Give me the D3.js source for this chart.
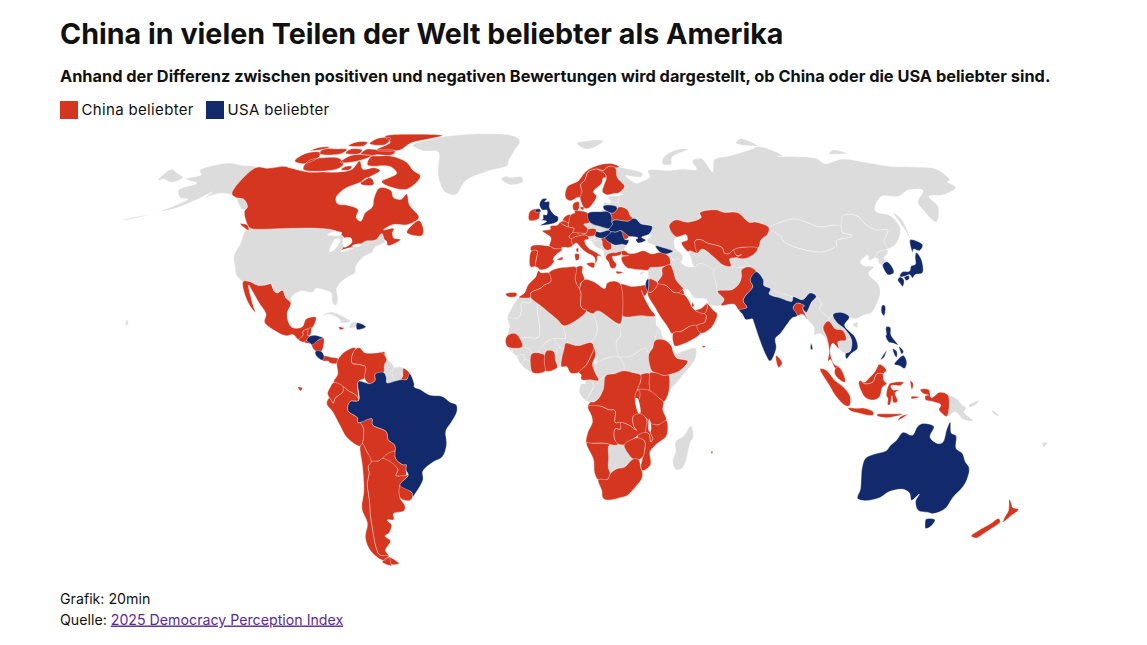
<!DOCTYPE html>
<html lang="de">
<head>
<meta charset="utf-8">
<title>China in vielen Teilen der Welt beliebter als Amerika</title>
<script src="https://cdn.jsdelivr.net/npm/d3@7"></script>
<style>
  html, body { margin: 0; padding: 0; background: #fff; }
  svg { display: block; }
  text { font-family: Inter, "Noto Sans", sans-serif; fill: #111; }
</style>
</head>
<body>
<svg id="chart" width="1147" height="645"></svg>
<script>
// labels
const titleText = "China in vielen Teilen der Welt beliebter als Amerika";
const subtitleText = "Anhand der Differenz zwischen positiven und negativen Bewertungen wird dargestellt, ob China oder die USA beliebter sind.";
const legendLabels = ["China beliebter", "USA beliebter"];
const creditText = "Grafik: 20min";
const sourcePrefix = "Quelle: ";
const sourceLink = "2025 Democracy Perception Index";

// country outlines, [lon, lat], read by hand. every country is a list of rings
const canada = [
  [[-141,69.6],[-135,69.3],[-128,70],[-125,69.5],[-115,68],[-108,68],[-100,68],[-95,69],[-94,72],[-90,69],[-85,69.5],[-81.5,68.5],[-85,66],[-87,64.5],[-93,62],[-94.5,59],[-92.5,57],[-88,56.5],[-82.5,55],[-82,52.5],[-79.5,51.3],[-79,54],[-77,56],[-78,59],[-77.5,62.4],[-72,61.5],[-69.5,59],[-66,58.5],[-64.5,60.3],[-61.5,56.5],[-56,52.5],[-60,50.2],[-66,50.2],[-69,48.5],[-65,49],[-65,47.5],[-64,46],[-61,45.5],[-65.5,43.6],[-66.5,45],[-67.5,45.5],[-69.2,47.4],[-71,45.3],[-74.7,45],[-76.5,44],[-79,43.4],[-79,42.8],[-83,42],[-82.5,45],[-84.5,46.5],[-88.5,48.3],[-95,49],[-109,49],[-123,49],[-125,50],[-130,54.5],[-130,56],[-134,58.5],[-137.5,59],[-141,60.3]],
  [[-61.5,66.5],[-65,62],[-72,62.5],[-78,64.5],[-73,67.5],[-78,70],[-89,70.5],[-90,73.8],[-80,73.8],[-71,71.5],[-66,68.5]],
  [[-118,69],[-105,68.5],[-101,69.8],[-101,71],[-105,73],[-112,73.3],[-119,72]],
  [[-125.5,72],[-120,71],[-115.5,73.5],[-117,75.3],[-124,74.8]],
  [[-90,76.3],[-78,76.2],[-75,79],[-65,81.3],[-61,82.5],[-75,83.2],[-92,82],[-86,79.5]],
  [[-96,74.7],[-80,74.5],[-80,75.9],[-90,76.4],[-95,76.5]],
  [[-96,78.8],[-87.5,78.5],[-88,81.3],[-95,81]],
  [[-117,74.8],[-106,74.8],[-105,76.5],[-110,76.7],[-117,76.5]],
  [[-123,76],[-117,76.5],[-115,77.5],[-120,77.3]],
  [[-104,75],[-97,74.8],[-97,76.2],[-103,76.6]],
  [[-106,78],[-98,78],[-98,79.5],[-104,79.5]],
  [[-103,71.5],[-96,71.8],[-90,74],[-100,74.2]],
  [[-100,68.8],[-96,68.8],[-96,70],[-99,70]],
  [[-87,63.7],[-81,63.5],[-83,65.5],[-86,65.8]],
  [[-59.3,47.7],[-53,46.7],[-52.8,48.5],[-55.5,51.5],[-57.5,50.5]],
  [[-128.5,50.5],[-123.5,48.4],[-125,50]]
];
const usa = [
  [[-123,49],[-124.7,48.4],[-124,44],[-124.3,40.3],[-122,36.8],[-120.5,34.5],[-117.1,32.5],[-114.8,32.5],[-111,31.3],[-108.2,31.4],[-106.5,31.8],[-104.5,29.6],[-103,29],[-101.4,29.8],[-99.5,27.5],[-97.2,25.9],[-97.3,27.8],[-94.5,29.5],[-90,29.2],[-89,30.3],[-85,29.7],[-83,29],[-81.8,26],[-80.5,25.2],[-80,27],[-81.3,30.5],[-79,33.3],[-75.6,35.3],[-76,37],[-74,40],[-71,41.5],[-70.5,43],[-67,44.8],[-67.5,45.5],[-69.2,47.4],[-71,45.3],[-74.7,45],[-76.5,44],[-79,43.4],[-79,42.8],[-83,42],[-82.5,45],[-84.5,46.5],[-88.5,48.3],[-95,49],[-109,49]],
  [[-141,69.6],[-141,60.3],[-137.5,59],[-134,58.5],[-130,56],[-131,55],[-134,56.5],[-139,59.5],[-146,60.5],[-151,59.3],[-150,61],[-154,58.5],[-160,55.5],[-165,54.5],[-158,58.5],[-162,59],[-166,61.5],[-161,64],[-166,65],[-168,65.6],[-163,67],[-166,68.5],[-157,71.2],[-148,70.3]],
  [[-165,54.5],[-172,52.5],[-178,51.5],[-176,52.2],[-170,53.2]],
  [[-156,20.8],[-154.9,19.5],[-155.8,19]]
];
const mexico = [
  [[-117.1,32.5],[-114.8,32.5],[-111,31.3],[-108.2,31.4],[-106.5,31.8],[-104.5,29.6],[-103,29],[-101.4,29.8],[-99.5,27.5],[-97.2,25.9],[-97.8,22.5],[-96,19],[-94.5,18.2],[-91.5,18.6],[-90.5,21],[-87,21.5],[-87.8,18.3],[-89.2,17.9],[-91,17.2],[-90.8,16],[-92.2,14.6],[-94.5,16.2],[-97,15.8],[-101.5,17.5],[-105.5,20],[-105.5,22.5],[-109,26],[-112.5,29.5],[-114.7,31.5],[-113,28.5],[-110.5,24.5],[-109.5,23],[-112,25],[-115,28.5]]
];
const guatemala = [[[-92.2,14.6],[-90.8,16],[-91,17.2],[-89.2,17.9],[-89,15.8],[-88.3,15.7],[-89.3,14.4],[-90.1,13.8]]];
const belize = [[[-89.2,17.9],[-88.2,18.4],[-88.3,16],[-89,15.9]]];
const elSalvador = [[[-90.1,13.8],[-89.3,14.4],[-87.8,13.4]]];
const honduras = [[[-89.3,14.4],[-88.3,15.7],[-86,15.9],[-83.2,15],[-84.5,14.8],[-87.3,13],[-87.8,13.4]]];
const nicaragua = [[[-87.3,13],[-84.5,14.8],[-83.2,15],[-83.7,11],[-85.7,11.1]]];
const costaRica = [[[-85.7,11.1],[-83.7,11],[-82.6,9.6],[-83,8.3],[-85.7,10]]];
const panama = [[[-82.9,8.1],[-82.6,9.6],[-80,9.2],[-77.4,8.7],[-77.9,7.3],[-80.3,7.4],[-81,8]]];
const cuba = [[[-85,21.9],[-82,23.1],[-77,21.7],[-74.2,20.2],[-77.7,19.9],[-78,20.7],[-82,22.4]]];
const dominicanRepublic = [[[-71.7,19.8],[-68.4,18.6],[-71.4,17.7],[-71.9,18.5]]];
const haiti = [[[-73.5,19.9],[-71.7,19.8],[-71.9,18.5],[-74.4,18.4]]];
const jamaica = [[[-78.3,18.5],[-76.2,18.2],[-77.5,17.7]]];
const trinidad = [[[-61.9,10.8],[-60.9,10.8],[-60.9,10],[-61.9,10]]];

const colombia = [[[-77.4,8.7],[-75.5,10.7],[-72,12.2],[-71.3,11.8],[-72.5,9.8],[-72.4,7.4],[-70,7],[-67.5,6.2],[-67.8,2.8],[-70,1.7],[-69.9,-4.2],[-70.9,-2.5],[-73.5,-1.2],[-75.3,0],[-78.8,1.4],[-77.4,4],[-77.9,7.3]]];
const venezuela = [[[-71.3,11.8],[-70,12.1],[-68,10.6],[-64,10.5],[-62,10.7],[-60,8.5],[-60.8,6.8],[-61,4.5],[-64,4],[-64,2],[-66,1],[-67.8,2.8],[-67.5,6.2],[-70,7],[-72.4,7.4],[-72.5,9.8]]];
const guyana = [[[-60,8.5],[-57.2,6],[-58,4],[-56.5,1.9],[-59.8,1.3],[-60,3],[-61,4.5],[-60.8,6.8]]];
const suriname = [[[-57.2,6],[-54,5.8],[-54.1,3.5],[-54.6,2.3],[-56.5,1.9],[-58,4]]];
const brazil = [[[-51.7,4.2],[-50,1],[-50,0],[-48,-0.7],[-44.5,-2.5],[-40,-2.9],[-37,-4.8],[-35,-5.5],[-34.8,-7.5],[-37,-11],[-39,-13.5],[-39,-17.8],[-40.8,-21.5],[-44.5,-23.2],[-48.5,-26],[-48.7,-28.5],[-52.5,-33],[-53.4,-33.7],[-53.5,-32.5],[-57.6,-30.2],[-54,-27.2],[-54.6,-25.6],[-54.3,-24],[-55.5,-24],[-58,-22],[-57.8,-18],[-60,-16.3],[-60.5,-13.8],[-65.3,-11.7],[-65.4,-9.8],[-70.5,-11],[-70.6,-9.5],[-73.9,-7.3],[-73,-4.5],[-69.9,-4.2],[-70,1.7],[-67,1.2],[-66,1],[-64,2],[-64,4],[-61,4.5],[-60,3],[-59.8,1.3],[-56.5,1.9],[-54.6,2.3],[-52.7,2.3]]];
const ecuador = [
  [[-78.8,1.4],[-75.3,0],[-75.5,-1.5],[-78.3,-3.5],[-79,-5],[-80.3,-3.4],[-81,-2],[-80,0]],
  [[-91.6,-0.1],[-90,-0.3],[-90.6,-1.2]]
];
const peru = [[[-80.3,-3.4],[-79,-5],[-78.3,-3.5],[-75.5,-1.5],[-75.3,0],[-73.5,-1.2],[-70.9,-2.5],[-69.9,-4.2],[-73,-4.5],[-73.9,-7.3],[-70.6,-9.5],[-70.5,-11],[-69.5,-11],[-68.7,-12.5],[-69,-16.2],[-69.5,-17.5],[-70.4,-18.3],[-75,-15.5],[-77,-12],[-79.5,-7.5],[-81.3,-5.5],[-81.2,-4.3]]];
const bolivia = [[[-69.5,-11],[-65.4,-9.8],[-65.3,-11.7],[-60.5,-13.8],[-60,-16.3],[-57.8,-18],[-58,-19.8],[-62.6,-22],[-64.3,-22.8],[-67,-23],[-68.4,-19.5],[-69.5,-17.5],[-69,-16.2],[-68.7,-12.5]]];
const paraguay = [[[-58,-19.8],[-58,-22],[-55.5,-24],[-54.3,-24],[-54.6,-25.6],[-54.8,-27.2],[-58.6,-27.3],[-57.6,-25.3],[-62.6,-22]]];
const uruguay = [[[-57.6,-30.2],[-53.5,-32.5],[-53.4,-33.7],[-54.9,-35],[-58.4,-34]]];
const argentina = [
  [[-67,-23],[-64.3,-22.8],[-62.6,-22],[-57.6,-25.3],[-58.6,-27.3],[-54.8,-27.2],[-54,-27.2],[-57.6,-30.2],[-58.4,-34],[-57,-36.5],[-57.6,-38.1],[-62,-39],[-62.3,-40.8],[-65,-41],[-63.7,-42.5],[-65.5,-45],[-67.5,-46],[-65.8,-47.5],[-69,-50.5],[-68.4,-52.3],[-72,-52],[-72.5,-50],[-72,-46],[-71.5,-43],[-71,-39],[-70.3,-36],[-70,-33],[-69.8,-30],[-68.4,-26.5],[-68.4,-24.5]],
  [[-68.6,-52.7],[-65.2,-54.8],[-68.6,-55]]
];
const chile = [
  [[-70.4,-18.3],[-69.5,-17.5],[-68.4,-19.5],[-67,-23],[-68.4,-24.5],[-68.4,-26.5],[-69.8,-30],[-70,-33],[-70.3,-36],[-71,-39],[-71.5,-43],[-72,-46],[-72.5,-50],[-72,-52],[-68.4,-52.3],[-71,-53.8],[-75,-51],[-75.5,-46.5],[-73,-42],[-73.7,-37.5],[-71.5,-32],[-70.5,-25]],
  [[-68.6,-52.7],[-68.6,-55],[-68.6,-55.5],[-72,-54.3]]
];
const greenland = [[[-73,78.2],[-65,81],[-60,82],[-40,83.4],[-22,82.3],[-18,80],[-20,76],[-22,72],[-22,70.5],[-32,68],[-40,65],[-43,60],[-48,61],[-53,66],[-55,70],[-58,75.5],[-66,76]]];
const iceland = [[[-24,65.5],[-21,63.8],[-18.5,63.4],[-14,64.6],[-15,66.2],[-20,66],[-22,66.4]]];

const russia = [
  [[31,69.8],[33,69.4],[41,67.5],[40,66.2],[35,66.5],[33,66.7],[37,64],[40,64.7],[44,66.2],[44,68.5],[54,68.5],[60,69],[67,69],[67,72],[72,73],[74,68],[78,72.5],[87,74],[100,76.5],[105,77.7],[113,74],[110,73.8],[128,73],[130,71],[140,72.7],[150,71.5],[160,70],[170,69.8],[180,69],[180,65],[178,64.5],[179,62.5],[170,60],[163,59.5],[163,56],[157,51],[155.5,55],[156,57.5],[163,61.5],[156,61.5],[150,59.5],[142,59.3],[135,54.7],[140,53],[140.5,49],[135,44],[131,42.6],[130.7,42.5],[131,45],[135,48.4],[130.5,48.5],[127.5,50],[126,53],[120.5,53.2],[117,49.7],[114,50],[108,49.5],[102,51.5],[98.5,52],[92,50.7],[87.3,49.2],[83,51],[80,51],[77,54],[71,54.2],[68,55],[61,54],[61,52.5],[55,51],[50,51.7],[47,50],[47,48.5],[49,46.3],[48,45.5],[47.5,43],[48.5,41.8],[46.5,41.8],[43.5,42.8],[40,43.5],[37,45],[39,47],[38.2,47.2],[40,49.6],[35.5,50.5],[34,52],[32.7,52.2],[31.7,53],[31,55],[28,56],[27.5,59.5],[30,60.2],[28,60.5],[31.5,62.8],[29,66],[29,69.5]],
  [[-180,69],[-175,67.5],[-170,66],[-173,64.3],[-178,65.5],[-180,65]],
  [[142,54],[143.5,52],[143,49],[142,46],[142,49],[141.8,52]],
  [[52,71],[56,70.7],[58,73.5],[68,76.5],[63,76.5],[54,73.5]],
  [[95,79],[105,78],[100,81]],
  [[137,74.8],[146,75],[141,76.2]],
  [[19.7,54.4],[22.8,54.3],[21,55.3]]
];
const svalbard = [[[12,79],[20,80.3],[26,80],[21,77.5],[16,76.7]]];

const unitedKingdom = [
  [[-5.5,50],[1.4,51.2],[1.7,52.7],[0,53.5],[-1.5,55],[-2,56],[-2,57.7],[-4,57.7],[-3,58.6],[-5,58.6],[-6.2,56.8],[-5,55],[-3,54.9],[-3,53.4],[-4.5,53.3],[-4.5,52],[-5.2,51.7],[-3,51.3]],
  [[-8,54.4],[-5.5,54.4],[-6,55.2],[-7.5,55.2]]
];
const ireland = [[[-10.2,51.6],[-6.3,52.1],[-6,53.5],[-5.9,54.2],[-8,54.4],[-7.5,55.3],[-10.2,54.4]]];
const france = [
  [[-1.8,43.4],[-1.2,46],[-4.7,48.2],[-1.5,48.7],[-1.5,49.7],[1.5,50.1],[2.5,51],[4.2,50],[6,49.5],[8.2,49],[7.5,47.6],[6,46.3],[7,45.8],[7.5,43.8],[6,43],[3.1,43],[3,42.4],[0,42.7]],
  [[8.6,42.2],[9.5,43],[9.4,41.5]],
  [[-54,5.8],[-51.7,4.2],[-52.7,2.3],[-54.6,2.3],[-54.1,3.5]]
];
const spain = [
  [[-9.2,43.1],[-8,43.7],[-1.8,43.4],[0,42.7],[3.2,42.4],[0.5,40.5],[-0.3,39.3],[0,38.7],[-2,36.8],[-5.3,36.1],[-6.3,36.8],[-7.4,37.2],[-7,39],[-6.6,42],[-8.8,41.9]],
  [[-18,28.7],[-14,29],[-14,28],[-17,27.8]],
  [[1.2,39.2],[3.4,40],[3.2,39.2]]
];
const portugal = [[[-8.8,41.9],[-6.6,42],[-7,39],[-7.4,37.2],[-9,37],[-9.5,38.7]]];
const belgium = [[[2.5,51],[4.2,51.4],[6,50.8],[6,49.5],[4.2,50]]];
const netherlands = [[[3.5,51.4],[4.8,53],[7.1,53.4],[6,50.8],[4.2,51.4]]];
const germany = [[[6,50.8],[7.1,53.4],[8.7,54],[8.6,54.9],[10,54.8],[14.2,53.9],[14.7,51],[12.2,50.3],[13.8,48.7],[13,47.5],[7.5,47.6],[8.2,49],[6,49.5]]];
const denmark = [[[8.2,55],[10,54.8],[10.8,56.3],[10.5,57.7],[8.2,57]],[[11,55.7],[12.6,56],[12.3,54.9]]];
const norway = [[[5,59],[7,58],[10.5,59.2],[11.3,59],[12.3,61],[12,63.5],[14,65],[16,68],[20,69],[23,68.5],[26,70],[29,69.5],[31,69.8],[28,71],[23,70.8],[17,69.2],[14,67.5],[11,64.8],[6,62.8]]];
const sweden = [[[11.3,59],[13,55.5],[14.5,55.5],[16.5,57],[18.5,59.5],[17.3,61],[21.5,64],[22.5,65.8],[24,66],[23.5,67.5],[20.5,69],[16,68],[14,65],[12,63.5],[12.3,61]]];
const finland = [[[24,66],[22.5,63.5],[21.3,61],[23,60],[27,60.5],[28,60.5],[31.5,62.8],[29,66],[29,69.5],[26,70],[23,68.5],[20.5,69],[23.5,67.5]]];
const italy = [
  [[7,45.8],[8.5,46.4],[12.2,47],[13.7,46.5],[13.7,45.6],[12.3,45.3],[12.4,44.2],[14,42.5],[16,41.7],[18.5,40.2],[17,40.4],[16.6,39],[16,38],[15.6,40],[12.5,41.5],[10.5,43],[8.8,44.4],[7.5,43.8]],
  [[12.5,38],[15.6,38.2],[15.1,36.7]],
  [[8.2,41],[9.7,41],[9.5,39.2],[8.5,39]]
];
const switzerland = [[[6,46.3],[7.5,47.6],[9.6,47.5],[10.4,46.8],[8.5,46.4],[7,45.8]]];
const austria = [[[9.6,47.5],[13,47.5],[13.8,48.7],[17,48.7],[16.5,46.9],[13.7,46.5],[12.2,47],[10.4,46.8]]];
const czechia = [[[12.2,50.3],[14.7,51],[18.8,49.6],[17,48.7],[13.8,48.7]]];
const slovakia = [[[17,48.7],[18.8,49.6],[22.5,49],[22,48.4],[18.8,47.8]]];
const poland = [[[14.2,53.9],[19.5,54.4],[23,54.3],[24,52.5],[23.7,51],[24,50.5],[22.5,49],[18.8,49.6],[14.7,51]]];
const lithuania = [[[21,55.3],[21,56.3],[26,56.3],[26.7,55.5],[25,54],[23.5,54],[22.8,54.3]]];
const latvia = [[[21,56.3],[21.5,57.5],[24,57.2],[24.5,57.9],[27.5,57.5],[28,56],[26.7,55.5],[26,56.3]]];
const estonia = [[[23.5,59.2],[28,59.4],[27.5,57.5],[24.5,57.9]]];
const belarus = [[[23.7,51],[24,52.5],[23.5,54],[25,54],[26.7,55.5],[28,56],[31,55],[31.7,53],[32.7,52.2],[30.5,51.3],[25,51.7]]];
const ukraine = [[[24,50.5],[23.7,51],[25,51.7],[30.5,51.3],[32.7,52.2],[34,52],[35.5,50.5],[40,49.6],[38.2,47.2],[35,46.2],[36.5,45.3],[33.5,44.4],[32.5,45.4],[33.5,46],[30.7,46.4],[30,46.5],[27,48.3],[24.9,47.8],[22.9,47.9],[22,48.4],[22.5,49]]];
const moldova = [[[27,48.3],[30,46.5],[28.2,45.5]]];
const romania = [[[22.9,47.9],[24.9,47.8],[27,48.3],[28.2,45.5],[29.7,45.3],[28.6,43.8],[27,44],[24,43.7],[22.5,44.3],[21.5,44.8],[20.3,46.1]]];
const hungary = [[[16.5,46.9],[17,48],[18.8,47.8],[22,48.4],[22.9,47.9],[20.3,46.1],[18.8,45.9],[16.5,46.5]]];
const bulgaria = [[[22.5,44.3],[24,43.7],[27,44],[28.6,43.8],[27.6,42.5],[28,41.9],[26.3,41.8],[24,41.4],[22.8,41.4],[22.4,42.5]]];
const serbia = [[[18.8,45.9],[20.3,46.1],[21.5,44.8],[22.5,44.3],[22.4,42.5],[20.5,42.2],[19.2,43.5],[19.1,44.9]]];
const slovenia = [[[13.7,46.5],[16.5,46.5],[15.5,45.5],[13.7,45.6]]];
const croatia = [[[13.7,45.5],[15.5,45.5],[16.5,46.5],[18.8,45.9],[19.1,44.9],[16,45],[15.5,44.2],[18.5,42.5],[16,43.5],[14.8,45]]];
const bosnia = [[[16,45],[19.1,44.9],[19.2,43.5],[18.5,42.5],[15.5,44.2]]];
const albaniaRegion = [[[18.5,42.5],[19.2,43.5],[20.5,42.2],[22.4,42.5],[22.8,41.4],[20.8,40.9],[20,39.7],[19.3,40.5],[19.4,41.8]]];
const greece = [
  [[20,39.7],[20.8,40.9],[22.8,41.4],[24,41.4],[26.3,41.8],[26,40.8],[23.5,40.3],[22.7,40.3],[23,39],[24,37.8],[23,36.5],[21.7,36.8],[21,38.5]],
  [[23.6,35.6],[26.3,35.3],[24,34.9]]
];
const turkey = [[[26.3,41.8],[28,41.9],[29,41.2],[31.5,41.2],[35,42],[38,41],[41.5,41.5],[43.5,41],[44.8,39.7],[44.5,37.7],[42.5,37.2],[38,36.8],[36.7,36.8],[36,36],[33,36.1],[30.5,36.3],[28,36.7],[26.3,38.5],[26.2,40],[29,40.5],[26.7,40.5]]];
const cyprus = [[[32.3,35],[34.5,35.6],[33.5,34.7]]];
const georgia = [[[40,43.5],[43.5,42.8],[46.5,41.8],[45,41.2],[43.5,41],[41.5,41.5]]];
const armenia = [[[43.5,41],[45,41.2],[46.5,39],[44.8,39.7]]];
const azerbaijan = [[[45,41.2],[46.5,41.8],[48.5,41.8],[50,40.4],[48.9,38.4],[46.5,39]]];

const kazakhstan = [[[47,50],[50,51.7],[55,51],[61,52.5],[61,54],[68,55],[71,54.2],[77,54],[80,51],[83,51],[87.3,49.2],[85.5,47],[82.5,45.5],[80,42.8],[74,43],[70.5,42.3],[68,41],[66.5,41.2],[66,43],[61,44.3],[58,45.5],[56,45],[56,41.3],[53,42],[52.5,41.7],[50.5,44.5],[53,45.3],[53,47],[49,46.3],[47,48.5]]];
const uzbekistan = [[[56,45],[58,45.5],[61,44.3],[66,43],[66.5,41.2],[68,41],[70.5,42.3],[71,40.5],[73,40.8],[71,39.9],[68,39.5],[67.8,37.2],[65,37.5],[62,40],[58,42.5],[56,41.3]]];
const kyrgyzstan = [[[70.5,42.3],[74,43],[80,42.8],[78,41],[73.5,39.5],[71,39.9],[73,40.8],[71,40.5]]];
const tajikistan = [[[68,39.5],[71,39.9],[73.5,39.5],[75,37.4],[71.5,36.8],[67.8,37.2]]];
const turkmenistan = [[[53,42],[56,41.3],[58,42.5],[62,40],[65,37.5],[61,36],[56,38],[53.8,37],[53,39.5]]];
const iran = [[[44.8,39.7],[46.5,39],[48,39.7],[48.9,38.4],[50,37.4],[53.8,37],[56,38],[61,36],[61,31.5],[63,27],[61.6,25.2],[57,25.5],[56.5,27],[52,27.5],[50,30],[48.5,30],[46,33],[45.5,35.5],[44.5,37.7]]];
const afghanistan = [[[61,36],[65,37.5],[67.8,37.2],[71.5,36.8],[74.5,37.2],[71.5,36],[71,34],[69.5,31.8],[66.5,30],[61,29.5],[61,31.5]]];
const pakistan = [[[61,29.5],[66.5,30],[69.5,31.8],[71,34],[71.5,36],[74.5,37],[77,35.5],[74,33],[74.5,31],[71,28],[70,26.5],[71,24.5],[68,23.7],[66.5,25.5],[61.6,25.2],[63,27]]];
const india = [
  [[77,35.5],[79,33],[78.7,31.3],[81,30.2],[80,28.7],[84,27.4],[88,26.4],[88.8,27.8],[92,26.9],[95.5,29],[97.4,28],[95,26],[93.5,24],[92.5,23],[91.5,24.5],[92.3,25],[89.8,25.9],[88,24.5],[89,22],[87,21.3],[85,19.5],[82,16.5],[80,15],[80,12],[77.5,8],[76.3,9.5],[74.5,14],[72.8,20],[72.5,21],[70,20.8],[69,22.5],[68,23.7],[71,24.5],[70,26.5],[71,28],[74.5,31],[74,33]],
  [[92.7,13.5],[93.1,11.7],[92.4,11.7]]
];
const sriLanka = [[[79.8,9.7],[81.8,7.5],[80.5,6],[79.8,7.5]]];
const bangladesh = [[[88,24.5],[89.8,25.9],[92.3,25],[91.5,24.5],[92.5,21],[91,22.5],[89,22]]];
const nepal = [[[80,28.7],[81,30.2],[88.2,27.9],[88,26.4],[84,27.4]]];
const myanmar = [[[92.5,23],[93.5,24],[95,26],[97.4,28],[98.7,25.7],[97.6,24],[101,21.5],[100,20.4],[97.8,18.5],[98.7,15],[99,11],[97.8,15.5],[96,16.5],[94.3,16],[94.5,18.5],[92.5,21]]];
const thailand = [[[100,20.4],[101,19.5],[102,18],[104.7,17.5],[105.5,14.5],[102.5,14],[102.5,12],[100.5,13.5],[99.3,11],[100.5,7],[102,6.2],[100.8,5.8],[99.2,8.5],[98.3,8],[99,11],[98.7,15],[97.8,18.5]]];
const vietnam = [[[102.2,22.4],[105.5,23],[108,21.6],[105.7,19],[108.8,15.5],[109.3,12],[106.7,10.3],[105,8.7],[104.8,10.3],[106.5,11],[107.5,14.5],[105.5,18],[103,20]]];
const laos = [[[100,20.4],[101,21.5],[102.2,22.4],[103,20],[105.5,18],[107.5,14.5],[105.5,14.5],[104.7,17.5],[102,18],[101,19.5]]];
const cambodia = [[[102.5,14],[105.5,14.5],[107.5,14.5],[106.5,11],[104.8,10.3],[102.8,11.6],[102.5,12]]];
const malaysia = [
  [[100.8,5.8],[102,6.2],[103.4,4.5],[104.2,1.5],[102.5,2],[100.5,4]],
  [[109.6,2],[111,1.5],[113,3],[115,4.9],[116.7,7],[119,5.2],[117.6,4.1],[115.5,4],[114,1.5],[111,1]]
];
const indonesia = [
  [[95.3,5.6],[97.5,5.2],[100.5,2],[103.5,0],[106,-3],[105.8,-5.8],[104.5,-5.8],[101,-3],[98.5,0.5]],
  [[109,1.5],[109.6,2],[111,1],[114,1.5],[115.5,4],[117.6,4.1],[118,2],[119,1],[117.5,0],[116.5,-3],[114.5,-4],[111.5,-3.3],[110,-1.5]],
  [[105.3,-6.5],[108.5,-6.6],[110.8,-6.5],[114.5,-7.7],[114.5,-8.7],[108,-7.8],[106.5,-7.4]],
  [[119.8,0.8],[120.8,1.3],[125,1.5],[124,0.5],[120.5,0.4],[121.3,-0.9],[123.3,-0.9],[122,-1.8],[123,-4.5],[121.5,-4.8],[120.9,-2.7],[120.3,-5.5],[119.5,-5.4],[119.5,-3.5],[118.9,-2.7]],
  [[116,-8.4],[119,-8.3],[123,-8.3],[125,-8.4],[123,-9],[119.5,-9.5],[116,-8.9]],
  [[123.6,-10.3],[127,-8.4],[124.5,-9.1]],
  [[127.5,2],[128.5,1],[128,-0.8],[127.5,1]],
  [[127.8,-3],[130.8,-3.1],[128,-3.6]],
  [[131,-0.8],[134,-0.8],[135,-3.3],[138,-1.6],[141,-2.6],[141,-9.1],[139,-8],[138,-7],[138.5,-5.5],[135,-4.4],[133,-4],[132.8,-2.8],[134,-2.5],[132,-2]]
];
const papuaNewGuinea = [
  [[141,-2.6],[144.5,-3.9],[146,-5.5],[147.8,-6.5],[147,-7.7],[150.8,-10.5],[147,-10],[144,-7.7],[141,-9.1]],
  [[148.5,-5.7],[152,-4.2],[151,-5.5],[149,-6.2]],
  [[157,-7],[160,-9],[158,-8.4]]
];
const philippines = [
  [[120.3,16],[120.7,18.5],[122.2,18.4],[122,16],[124,13],[122.5,13.5],[120.7,14],[120,16]],
  [[122,7],[123.5,8.6],[125.5,9.7],[126.5,7.5],[125.5,5.7],[124,6.5]],
  [[124.3,12.5],[125.7,11],[125,10.2]],
  [[122,11.8],[123.3,11],[123,9.2],[122.3,10]],
  [[117.2,8.4],[119.6,11.3],[118.5,9.2]]
];
const japan = [
  [[130.9,34],[132.5,35.4],[135.5,35.7],[136.8,37.2],[138.8,37.8],[140,40],[141.3,41.4],[142,39.5],[140.8,36],[139.8,35],[137,34.6],[135.5,33.6],[135,34.6],[132.5,34]],
  [[140,41.5],[141.7,45.4],[145.5,43.8],[143,42],[141,42.5]],
  [[129.7,33],[131,33.9],[132,33],[130.7,31],[130,32]],
  [[132.5,33.8],[134.5,34.3],[134.2,33.4],[132.9,32.8]]
];
const taiwan = [[[120.1,23],[121,25.2],[122,25],[120.8,22]]];
const southKorea = [[[126.2,37.7],[128.4,38.6],[129.4,37],[129.2,35.2],[127,34.5],[126.3,35]]];
const northKorea = [[[124.4,40],[126.5,41.5],[128,42],[130.7,42.3],[129.8,41],[127.5,39.7],[128.4,38.6],[126.2,37.7],[125,38],[125.3,39.5]]];
const china = [
  [[73.5,39.5],[78,41],[80,42.8],[82.5,45.5],[85.5,47],[87.3,49.2],[90.8,46.5],[91,45],[96,42.8],[105,41.7],[111.5,43.7],[112,45],[119.5,46.7],[116,47.8],[117,49.7],[120.5,53.2],[126,53],[127.5,50],[130.5,48.5],[135,48.4],[131,45],[130.7,42.5],[128,42],[126.5,41.5],[124.4,40],[121.5,39],[122,40.5],[119,39.3],[118,38.2],[119,37.3],[122.5,37],[119.5,35],[121.8,31.5],[121.5,29],[119,25.5],[116.5,23],[113.5,22.2],[110,21],[108,21.6],[105.5,23],[102.2,22.4],[101,21.5],[97.6,24],[98.7,25.7],[97.4,28],[95.5,29],[92,26.9],[88.8,27.8],[88.2,27.9],[81,30.2],[78.7,31.3],[79,33],[77,35.5],[74.5,37.2],[75,37.4]],
  [[108.7,19.3],[110.7,20],[110,18.4]]
];
const mongolia = [[[87.3,49.2],[92,50.7],[98.5,52],[102,51.5],[108,49.5],[114,50],[117,49.7],[116,47.8],[119.5,46.7],[112,45],[111.5,43.7],[105,41.7],[96,42.8],[91,45],[90.8,46.5]]];

const saudiArabia = [[[34.9,29.4],[36,29.2],[37.5,30],[38,30.5],[39,32],[42,31.3],[44.7,29.2],[46.5,29.1],[48.4,28.5],[50,26.5],[50.8,24.7],[52,23.6],[55.2,22.7],[55.7,22],[55,20],[52,19],[49,18.6],[46.5,17.3],[43.2,16.7],[42.8,16.4],[41,19],[39,21.5],[37.2,24.5],[35,28]]];
const yemen = [[[43.2,16.7],[46.5,17.3],[49,18.6],[52,19],[53.1,16.7],[49,14.2],[45,12.8],[43.5,12.7]],[[53.3,12.7],[54.6,12.6],[54,12.2]]];
const oman = [[[55,20],[55.7,22],[55.2,22.7],[56.4,24.5],[56.3,26],[58.7,23.5],[59.8,22.5],[57.8,19],[55,17],[53.1,16.7],[52,19]]];
const uae = [[[52,23.6],[55.2,22.7],[56.4,24.5],[56.3,25.6],[54,24.2]]];
const qatar = [[[50.8,24.7],[51.2,26.1],[51.6,25]]];
const kuwait = [[[46.5,29.1],[48,30],[48.4,28.5]]];
const iraq = [[[42.5,37.2],[44.5,37.7],[45.5,35.5],[46,33],[48.5,30],[48,30],[46.5,29.1],[44.7,29.2],[42,31.3],[39,32],[41,34.5],[41.3,36.5]]];
const jordan = [[[35,29.4],[36,29.2],[37.5,30],[38,30.5],[39,32],[36,33.3],[35.6,32],[35.5,31]]];
const syria = [[[36,36],[36.7,36.8],[38,36.8],[42.5,37.2],[41.3,36.5],[41,34.5],[39,32],[36,33.3]]];
const lebanon = [[[35.1,33.1],[36,33.3],[36,34.6]]];
const israel = [[[34.3,31.3],[34.9,29.5],[35.5,31],[35.6,32],[35.7,33.2],[35.1,33.1]]];

const egypt = [[[25,31.6],[29,31],[32.5,31.2],[34.3,31.3],[34.9,29.5],[33.5,28],[32.6,29.8],[33.8,27],[35.5,24],[37,22],[31.5,22],[25,22],[25,29]]];
const libya = [[[9.5,30.2],[11.5,33.1],[15,32.4],[19,30.3],[20,32],[23,32.6],[25,31.6],[25,22],[24,19.5],[16,23.5],[14.2,22.6],[11.9,23.5],[10,24.5],[10,29]]];
const tunisia = [[[8,33],[9.5,30.2],[10,32],[11.5,33.1],[10.7,35.5],[11,37],[9.8,37.3],[8.5,36.8]]];
const algeria = [[[-8.7,27.7],[-8.7,29],[-5,30.5],[-3.5,31.5],[-1.2,32.5],[-2,35.1],[1,36.5],[5,36.9],[8.5,36.8],[8,33],[9.5,30.2],[10,29],[10,24.5],[11.9,23.5],[5.8,19.4],[3.3,19],[1.2,20.8],[-4.8,25]]];
const morocco = [[[-2,35.1],[-1.2,32.5],[-3.5,31.5],[-5,30.5],[-8.7,29],[-8.7,27.7],[-13,27.7],[-11,29],[-9.7,31.5],[-7,33.8],[-5.9,35.8],[-5,35.2]]];
const westernSahara = [[[-13,27.7],[-8.7,27.7],[-8.7,26],[-12,26],[-12,23.5],[-13,21.3],[-17,21.3],[-16,23.7],[-14.5,26]]];
const mauritania = [[[-17,21.3],[-13,21.3],[-12,23.5],[-12,26],[-8.7,26],[-8.7,27.7],[-4.8,25],[-6,25],[-5.5,15.5],[-11.5,15.3],[-12.2,14.8],[-14,16.5],[-16.5,16.1],[-16.2,19]]];
const mali = [[[-4.8,25],[1.2,20.8],[3.3,19],[4.2,16],[4.2,15],[0.2,14.9],[-2,14.3],[-3.5,13.3],[-5.3,11],[-8,10.3],[-8.5,11.5],[-11.4,12.4],[-12.2,14.8],[-11.5,15.3],[-5.5,15.5],[-6,25]]];
const senegal = [[[-16.5,16.1],[-14,16.5],[-12.2,14.8],[-11.4,12.4],[-16.7,12.4],[-17.5,14.7]]];
const guineaBissau = [[[-16.7,12.4],[-13.7,12.4],[-15,11]]];
const guinea = [[[-13.7,12.4],[-11.4,12.4],[-8.5,11.5],[-8,10.3],[-8.5,7.6],[-10.5,8.5],[-11,10],[-13.2,9.5],[-15,11]]];
const sierraLeone = [[[-13.2,9.5],[-11,10],[-10.5,8.5],[-11.5,6.9]]];
const liberia = [[[-11.5,6.9],[-10.5,8.5],[-8.5,7.6],[-7.5,4.4]]];
const ivoryCoast = [[[-8.5,7.6],[-8,10.3],[-5.3,10.5],[-2.9,9.5],[-2.9,5.1],[-7.5,4.4]]];
const ghana = [[[-2.9,11],[-0.1,11],[0.6,8],[1.2,6.1],[-2,4.8],[-2.9,5.1]]];
const burkinaFaso = [[[-5.3,11],[-3.5,13.3],[-2,14.3],[0.2,14.9],[2.3,12.3],[0.9,11],[-2.9,11],[-2.9,9.5]]];
const togo = [[[-0.1,11],[0.9,11],[1.7,6.2],[1.2,6.1],[0.6,8]]];
const benin = [[[0.9,11],[2.3,12.3],[3.6,11.7],[2.8,9],[2.7,6.3],[1.7,6.2]]];
const nigeria = [[[2.7,6.3],[2.8,9],[3.6,11.7],[4.2,13.5],[7,13],[9,12.8],[13.5,13.7],[14.5,12],[13.5,10],[11.5,6.7],[8.8,4.5],[6,4.3],[4.5,6.3]]];
const niger = [[[3.3,19],[5.8,19.4],[11.9,23.5],[14.2,22.6],[15.5,20],[15.5,16.5],[13.5,13.7],[9,12.8],[7,13],[4.2,13.5],[3.6,11.7],[2.3,12.3],[0.2,14.9],[4.2,15],[4.2,16]]];
const cameroon = [[[8.8,4.5],[11.5,6.7],[13.5,10],[14.5,12],[14.2,13],[15,10],[13.8,7],[15,4],[16,2],[13.3,2.2],[9.8,2.3],[9.7,3.8]]];
const chad = [[[14.2,22.6],[16,23.5],[24,19.5],[24,15.7],[22.5,14],[23.8,9],[19,9],[15.5,7.5],[15,10],[14.2,13],[13.5,13.7],[15.5,16.5],[15.5,20]]];
const sudan = [[[25,22],[31.5,22],[37,22],[37.3,19],[38.5,18],[36.5,14.5],[35.5,12],[34,10],[32.9,12],[27.5,9.5],[23.8,9],[22.5,14],[24,15.7],[24,19.5],[25,20]]];
const southSudan = [[[23.8,9],[27.5,9.5],[32.9,12],[34,10],[35,5],[34,4.2],[31,3.7],[28,4.5],[25,5]]];
const centralAfrica = [[[15.5,7.5],[19,9],[23.8,9],[25,5],[22,4.2],[18.5,3.5],[16,2],[15,4],[13.8,7]]];
const eritrea = [[[36.5,14.4],[38.5,18],[39.5,15],[42.4,12.5],[40,14.5]]];
const ethiopia = [[[36.5,14.4],[40,14.5],[42.4,12.5],[42.8,11],[44,9],[48,8],[45,5],[42,4],[39.5,3.5],[36,4.5],[35,5],[34,10],[35.5,12]]];
const somalia = [[[42.8,11],[44,10.5],[51,12],[50.8,9],[47,4.5],[42,-0.5],[41,-1.7],[41,3.7],[42,4],[45,5],[48,8],[44,9]]];
const kenya = [[[34,4.2],[36,4.5],[39.5,3.5],[41,3.7],[41,-1.7],[39.2,-4.6],[37.7,-3.5],[34,-1],[34,1.2]]];
const uganda = [[[31,3.7],[34,4.2],[34,1.2],[34,-1],[30,-1],[31,2]]];
const tanzania = [[[30,-1],[34,-1],[37.7,-3.5],[39.2,-4.6],[39,-7],[40.4,-10.4],[37.5,-11.7],[34.5,-11.5],[33,-9.5],[31,-8.7],[29.5,-6],[30.5,-3]]];
const rwandaBurundi = [[[29,-1.4],[30.4,-1],[30.8,-2.4],[30,-4.4],[29.3,-4.4]]];
const drCongo = [[[12.2,-6],[13,-4.7],[14.3,-4.6],[16,-3.5],[17.7,-0.5],[18.5,3.5],[22,4.2],[25,5],[28,4.5],[31,3.7],[31,2],[29.7,-1],[29,-2.5],[29.5,-6],[30.7,-8.2],[28.5,-9],[28.7,-12],[29.8,-13.4],[27,-11.8],[24,-11],[22,-11],[21.8,-7.3],[19.5,-7],[17,-6]]];
const congo = [[[11.2,-4],[12.8,-4.7],[14.3,-4.6],[16,-3.5],[17.7,-0.5],[18.5,3.5],[16,2],[13.3,2.2],[14,0],[12.8,-2.2]]];
const gabon = [[[9.8,1],[11.3,1],[11.3,2.3],[13.3,2.2],[14,0],[12.8,-2.2],[11.2,-4],[9,-1.5],[9.3,0]]];
const angola = [[[11.8,-17.3],[14,-17.4],[18.5,-17.4],[21.5,-18],[23.4,-17.6],[22,-16.2],[22,-13],[24,-13],[24,-11],[22,-11],[21.8,-7.3],[19.5,-7],[17,-6],[12.2,-6],[13.5,-9],[13.8,-11],[12.2,-14]]];
const zambia = [[[22,-13],[24,-13],[24,-11],[27,-11.8],[29.8,-13.4],[28.7,-12],[28.5,-9],[30.7,-8.2],[33,-9.5],[33.5,-11],[33,-14],[30.3,-15],[28.8,-16],[25.5,-17.8],[23.4,-17.6],[22,-16.2]]];
const malawi = [[[33,-9.5],[34.5,-11.5],[35,-14.5],[35.8,-16],[35,-17],[34.3,-14.5],[33,-14],[33.5,-11]]];
const mozambique = [[[40.4,-10.4],[40.7,-15],[37,-17.8],[35,-20],[35.5,-24],[32.8,-25.8],[32,-25],[32.5,-21.5],[33,-19.5],[32.8,-16.7],[30.3,-15.7],[30.3,-15],[33,-14],[34.3,-14.5],[35,-17],[35.8,-16],[35,-14.5],[34.5,-11.5],[37.5,-11.7]]];
const zimbabwe = [[[25.5,-17.8],[28.8,-16],[30.3,-15.7],[32.8,-16.7],[33,-19.5],[32.5,-21.5],[31,-22.4],[29,-22.2],[27,-20.5]]];
const botswana = [[[20,-18],[21.5,-18],[23.4,-17.6],[25.5,-17.8],[27,-20.5],[29,-22.2],[26,-24.7],[23,-25.3],[20.8,-26.8],[20,-24.8],[20,-22]]];
const namibia = [[[11.8,-17.3],[14,-17.4],[18.5,-17.4],[21.5,-18],[20,-18],[20,-22],[20,-24.8],[20.8,-26.8],[20,-28.4],[16.5,-28.6],[15,-26.5],[14.5,-22.5]]];
const southAfrica = [[[16.5,-28.6],[20,-28.4],[20.8,-26.8],[23,-25.3],[26,-24.7],[29,-22.2],[31,-22.4],[32,-25],[32.8,-26.8],[32.5,-28.5],[30.8,-30.5],[27.5,-33.5],[25.5,-34],[20,-34.8],[18.4,-34],[18,-32]]];
const lesotho = [[[27,-29.6],[28.8,-28.7],[29.4,-29.6],[28,-30.6]]];
const eswatini = [[[31,-26],[32,-26],[31.8,-27.2],[31,-27]]];
const madagascar = [[[49.3,-12],[50.4,-15.5],[49.5,-17],[47.5,-24.8],[45,-25.5],[43.5,-23],[44.3,-20],[44,-17],[47,-15]]];
const mauritius = [[[57.2,-19.9],[57.9,-19.9],[57.6,-20.6]]];

const australia = [
  [[114,-22],[113.5,-25],[115,-31.5],[115,-34.3],[118,-35],[123.5,-34],[126,-32.3],[131,-31.5],[134,-32.7],[135.8,-34.9],[137.8,-33],[137.5,-35.2],[140,-38],[144,-38.6],[146.4,-39],[150,-37.5],[151,-34],[153,-31],[153.6,-28.5],[153,-25],[150.8,-23],[149,-20.5],[146.3,-19],[145.3,-15],[143.5,-14.3],[142.5,-10.8],[141.6,-13],[141,-17],[139.5,-17.5],[136,-15.5],[136.8,-12.2],[132.6,-11.3],[130.8,-12.4],[129.5,-14.9],[126,-14],[124,-16.5],[122.2,-18],[121,-19.7],[117,-20.7]],
  [[144.7,-40.7],[148.3,-40.9],[148,-43],[146.5,-43.6],[145.5,-42.5]]
];
const newZealand = [
  [[172.7,-34.5],[174.5,-36],[175.5,-37],[178.4,-37.7],[176.9,-39.7],[175.3,-41.6],[174.8,-39.8],[174.7,-38]],
  [[172.7,-40.5],[174.2,-41.5],[172.7,-43.5],[171,-45],[169,-46.6],[166.5,-46],[168,-44.2],[171,-42]]
];
const fiji = [[[177,-17.4],[179,-17.2],[178,-18.5]]];

// lakes are painted over the land in white
const lakes = [
  [[[-91,47],[-85.5,46.8],[-85.5,47.7],[-88.5,48]]],
  [[[-87.8,41.7],[-86.3,42],[-85,45.5],[-87,45.7]]],
  [[[-84,45.8],[-82.5,43],[-80,44.6],[-81,46]]],
  [[[-83.3,41.7],[-79,42.7],[-79,43],[-83,42.2]]],
  [[[-79.7,43.3],[-76.3,43.5],[-76.5,44.2],[-79.3,43.8]]],
  [[[29.2,-3.5],[29.9,-3.5],[31,-8],[30.2,-8]]],
  [[[34.2,-9.7],[34.9,-11.5],[34.9,-13.7],[34.3,-13.7],[34,-11]]]
];

// colour groups of the legend, plus the countries without a result
const chinaBeliebter = [canada, mexico, guatemala, belize, elSalvador, nicaragua, panama, jamaica, trinidad, colombia, venezuela, ecuador, peru, bolivia, paraguay, uruguay, argentina, chile, ireland, france, spain, portugal, belgium, netherlands, germany, denmark, norway, sweden, finland, italy, switzerland, austria, belarus, moldova, serbia, greece, turkey, kazakhstan, uzbekistan, kyrgyzstan, pakistan, sriLanka, bangladesh, thailand, malaysia, indonesia, saudiArabia, yemen, oman, uae, qatar, kuwait, iraq, jordan, egypt, libya, tunisia, algeria, morocco, senegal, ivoryCoast, ghana, nigeria, cameroon, ethiopia, kenya, uganda, tanzania, rwandaBurundi, drCongo, angola, zambia, malawi, mozambique, zimbabwe, namibia, southAfrica, mauritius, newZealand];
const usaBeliebter = [honduras, costaRica, dominicanRepublic, brazil, unitedKingdom, poland, lithuania, ukraine, romania, hungary, georgia, india, vietnam, philippines, japan, taiwan, southKorea, israel, australia];
const keineAngabe = [usa, cuba, haiti, guyana, suriname, greenland, iceland, russia, svalbard, czechia, slovakia, latvia, estonia, bulgaria, slovenia, croatia, bosnia, albaniaRegion, cyprus, armenia, azerbaijan, tajikistan, turkmenistan, iran, afghanistan, nepal, myanmar, laos, cambodia, papuaNewGuinea, northKorea, china, mongolia, syria, lebanon, westernSahara, mauritania, mali, guineaBissau, guinea, sierraLeone, liberia, burkinaFaso, togo, benin, niger, chad, sudan, southSudan, centralAfrica, eritrea, somalia, congo, gabon, botswana, lesotho, eswatini, madagascar, fiji];

const colorChina = "#d4361f";
const colorUsa = "#12296b";
const colorNone = "#dcdcdc";

var svg = d3.select("#chart");
var projection = d3.geoNaturalEarth1().scale(184).translate([554, 387]);

// hand read outlines are angular, a closed curve through the projected
// points rounds them off like the soft source map
var outline = d3.line().curve(d3.curveCatmullRomClosed.alpha(0.5));
function countryPath(rings) {
  return rings.map(function (ring) { return outline(ring.map(projection)); }).join("");
}

var map = svg.append("g").style("filter", "blur(0.6px)");

function drawGroup(list, color, cls) {
  map.append("g").attr("class", cls)
    .selectAll("path").data(list).join("path")
    .attr("d", countryPath)
    .attr("fill", color)
    .attr("stroke", "#fff")
    .attr("stroke-opacity", 0.5)
    .attr("stroke-width", 0.7)
    .attr("stroke-linejoin", "round");
}
drawGroup(keineAngabe, colorNone, "none");
drawGroup(chinaBeliebter, colorChina, "china");
drawGroup(usaBeliebter, colorUsa, "usa");

map.append("g").selectAll("path").data(lakes).join("path")
  .attr("d", countryPath).attr("fill", "#fff");

// heading
svg.append("text").attr("x", 60).attr("y", 44)
  .attr("font-size", 28.65).attr("font-weight", 700).text(titleText);
svg.append("text").attr("x", 60).attr("y", 82)
  .attr("font-size", 16.33).attr("font-weight", 700).text(subtitleText);

// legend
var legendColors = [colorChina, colorUsa];
var legendX = [60, 206];
legendLabels.forEach(function (label, i) {
  svg.append("rect").attr("x", legendX[i]).attr("y", 101)
    .attr("width", 18).attr("height", 18).attr("fill", legendColors[i]);
  svg.append("text").attr("x", legendX[i] + 21.5).attr("y", 115)
    .attr("font-size", 15).attr("letter-spacing", 0.34).text(label);
});

// footer
svg.append("text").attr("x", 60).attr("y", 603.5).attr("font-size", 14.2).text(creditText);
var source = svg.append("text").attr("x", 60).attr("y", 624.5).attr("font-size", 14.2);
source.append("tspan").text(sourcePrefix);
source.append("tspan").attr("fill", "#5b2a9d").style("fill", "#5b2a9d")
  .attr("text-decoration", "underline").text(sourceLink);
</script>
</body>
</html>
